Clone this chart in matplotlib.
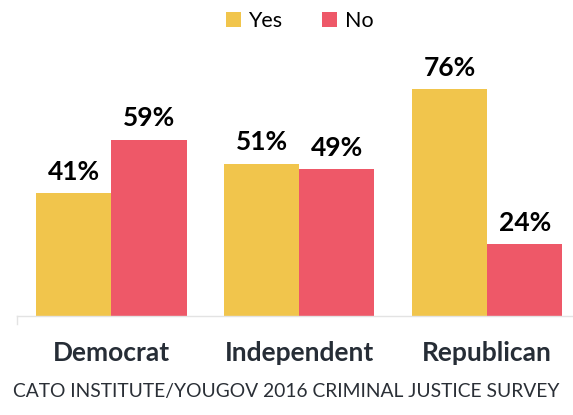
import matplotlib.pyplot as plt
import numpy as np

# Data
parties = ["Democrat", "Independent", "Republican"]
yes_vals = [41, 51, 76]
no_vals = [59, 49, 24]
series_names = ["Yes", "No"]

YES_COLOR = "#F1C54C"
NO_COLOR = "#EE5868"

plt.rcParams['font.family'] = ['Lato', 'DejaVu Sans']

fig = plt.figure(figsize=(5.73, 4.15), dpi=100)
W, H = 573, 415
# axes placed in pixel terms: left 17, right 573, bottom at y=316, top at y=17
ax = fig.add_axes([17 / W, (H - 316) / H, (573 - 17) / W, (316 - 17) / H])

x = np.arange(len(parties))
bw = 0.40
ax.bar(x - bw / 2, yes_vals, bw, color=YES_COLOR, label=series_names[0])
ax.bar(x + bw / 2, no_vals, bw, color=NO_COLOR, label=series_names[1])

for xi, v in zip(x - bw / 2, yes_vals):
    ax.text(xi, v + 4.4, f"{v}%", ha="center", va="baseline",
            fontsize=19, fontweight="bold", color="black")
for xi, v in zip(x + bw / 2, no_vals):
    ax.text(xi, v + 4.4, f"{v}%", ha="center", va="baseline",
            fontsize=19, fontweight="bold", color="black")

ax.set_xlim(-0.503, 2.457)
ax.set_ylim(0, 100)
ax.set_yticks([])
ax.set_xticks(x)
ax.set_xticklabels(parties, fontsize=19, fontweight="bold", color="#262d36")
ax.tick_params(axis="x", length=0, pad=18)
for s in ["top", "right", "left"]:
    ax.spines[s].set_visible(False)
ax.spines["bottom"].set_color("#e3e3e3")
ax.spines["bottom"].set_linewidth(1)
# small tick at the left end of the baseline
ax.plot([0, 0], [0, -0.027], transform=ax.transAxes, color="#e3e3e3",
        lw=1, clip_on=False)

leg = fig.legend(loc="upper center", bbox_to_anchor=(0.523, 1.02), ncol=2,
                 frameon=False, fontsize=15.5, handlelength=0.7,
                 handleheight=0.7, handletextpad=0.35, columnspacing=1.85)
for t in leg.get_texts():
    t.set_color("black")

fig.text(0.5, 18 / H, "CATO INSTITUTE/YOUGOV 2016 CRIMINAL JUSTICE SURVEY",
         ha="center", va="baseline", fontsize=13.9, color="#2a2f36")

fig.savefig("out.png", dpi=100)
